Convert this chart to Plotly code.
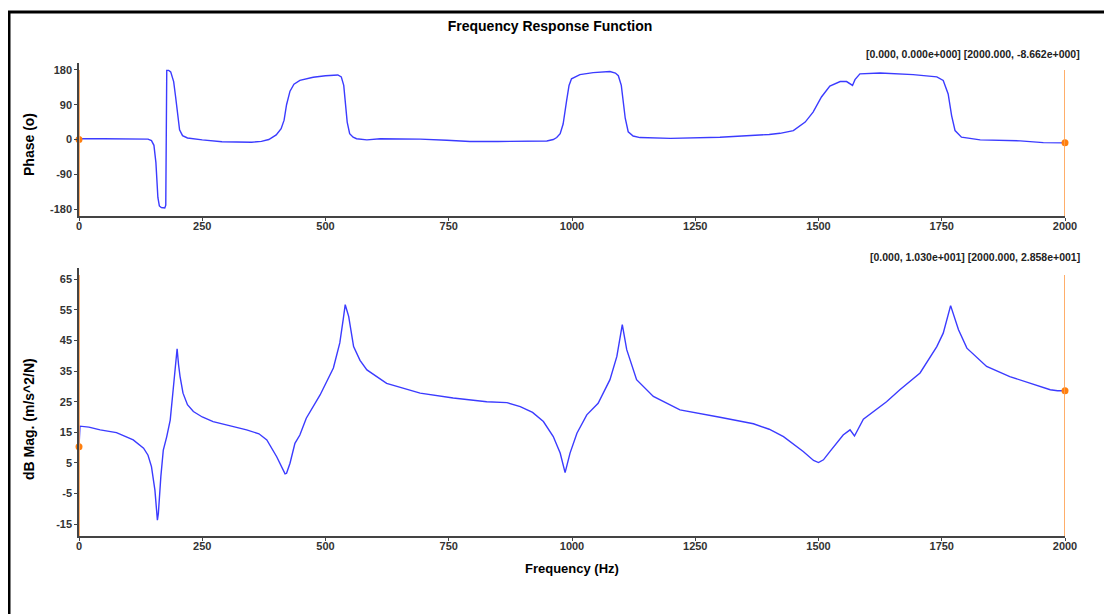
import plotly.graph_objects as go

# ---------------- data ----------------
phase_freq = [0, 5, 50, 100, 140, 147, 152, 156, 160, 163, 167, 174, 176, 178, 182, 186, 189, 192, 196,
              200, 204, 210, 220, 250, 290, 350, 370, 385, 400, 410, 416, 421, 428, 436, 448, 475, 500,
              525, 532, 537, 540, 544, 549, 556, 563, 584, 611, 692, 746, 793, 850, 901, 949, 962, 969,
              976, 982, 989, 994, 999, 1016, 1043, 1077, 1088, 1094, 1100, 1104, 1108, 1114, 1124, 1138,
              1200, 1300, 1350, 1400, 1422, 1449, 1473, 1489, 1506, 1523, 1544, 1557, 1569, 1574, 1584,
              1625, 1692, 1740, 1753, 1763, 1770, 1777, 1790, 1807, 1828, 1909, 1956, 2000]
phase_deg = [0, 2, 2, 2, 1, -3, -15, -60, -150, -172, -176, -177, -170, 179, 179, 175, 165, 150, 110,
             60, 25, 10, 4, -1, -6, -7, -5, 0, 12, 28, 50, 90, 125, 143, 153, 161, 165,
             167, 162, 140, 100, 45, 15, 6, 2, -1, 2, 1, -2, -5, -5, -4, -4, 0, 5,
             15, 40, 100, 140, 157, 168, 173, 176, 172, 165, 140, 100, 55, 20, 9, 5,
             3, 6, 9, 13, 16, 23, 45, 71, 110, 138, 150, 150, 140, 155, 170,
             172, 168, 162, 153, 118, 62, 23, 6, 2, -1, -3.5, -8, -8.662]

mag_freq = [0, 2, 20, 43, 76, 110, 131, 140, 147, 154, 159, 161, 166, 171, 178, 185, 191, 196, 199,
            202, 205, 211, 220, 232, 250, 272, 313, 340, 365, 381, 401, 412, 418, 421, 428, 438, 448,
            461, 489, 516, 529, 536, 540, 547, 557, 570, 584, 624, 692, 759, 827, 868, 895, 920, 942,
            962, 976, 986, 996, 1010, 1030, 1053, 1077, 1091, 1102, 1111, 1131, 1165, 1219, 1300,
            1368, 1400, 1429, 1469, 1490, 1500, 1510, 1523, 1550, 1564, 1573, 1591, 1638, 1665, 1706,
            1740, 1753, 1768, 1784, 1801, 1841, 1888, 1936, 1970, 1985, 2000]
mag_db = [10.3, 17, 16.7, 15.8, 14.9, 12.5, 9.8, 7.5, 3.8, -3.9, -13.7, -11.5, 0.5, 9.2, 13.6, 19, 28.9, 37, 42.3,
          37, 33.2, 27.8, 24, 21.8, 20, 18.5, 16.9, 15.8, 14.5, 12.5, 7, 3.5, 1.4, 1.6, 4.9, 11.4, 14.1,
          19.6, 27.2, 36, 44.2, 52, 56.7, 52.9, 43, 38.5, 35.4, 31, 27.8, 26.2, 25, 24.7, 23.4, 21.5, 18.5,
          13.6, 8.2, 1.8, 8.2, 14.7, 20.7, 24.5, 32.2, 39.8, 50.2, 42, 32.2, 26.7, 22.3, 19.9,
          17.8, 16, 13.6, 8.7, 5.8, 5.1, 6, 8.7, 14.1, 15.8, 13.8, 19.3, 25, 28.9, 34.4,
          43, 47.4, 56.4, 48.5, 42.5, 36.5, 33.2, 30.8, 28.9, 28.6, 28.58]

cursor_freq = [0.0, 2000.0]
cursor_phase = [0.0, -8.662]
cursor_mag = [10.30, 28.58]

x_ticks = [0, 250, 500, 750, 1000, 1250, 1500, 1750, 2000]
phase_ticks = [-180, -90, 0, 90, 180]
mag_ticks = [-15, -5, 5, 15, 25, 35, 45, 55, 65]

title_text = "Frequency Response Function"
phase_title = "Phase (o)"
mag_title = "dB Mag. (m/s^2/N)"
x_title = "Frequency (Hz)"

# ---------------- layout helpers ----------------
# the page body adds an 8px margin; the figure is sized so that it fills the window exactly
OFF = 8
FW, FH = 1112 - OFF, 614 - OFF
ML, MR = 79 - OFF, 1112 - 1065
PW = FW - ML - MR


def px(xs):
    """screen x (px) -> paper x"""
    return (xs - OFF - ML) / PW


def py(ys):
    """screen y (px) -> paper y"""
    return 1 - (ys - OFF) / FH


FONT = "Liberation Sans, Arial, sans-serif"
LINE = "#3b3bff"
ORANGE_LINE = "rgba(255,160,80,0.85)"
ORANGE_MARK = "#ff7f0e"


def fmt_e(v):
    s = f"{v:.3e}"
    mant, ex = s.split("e")
    return f"{mant}e{ex[0]}{int(ex[1:]):03d}"


def cursor_label(fs, vs):
    return " ".join(f"[{f:.3f}, {fmt_e(v)}]" for f, v in zip(fs, vs))


fig = go.Figure()
fig.add_trace(go.Scatter(x=phase_freq, y=phase_deg, mode="lines",
                         line=dict(color=LINE, width=1.4), xaxis="x", yaxis="y", showlegend=False))
fig.add_trace(go.Scatter(x=mag_freq, y=mag_db, mode="lines",
                         line=dict(color=LINE, width=1.4), xaxis="x2", yaxis="y2", showlegend=False))

# cursor lines
for xc in cursor_freq:
    fig.add_shape(type="line", xref="x", yref="y domain", x0=xc, x1=xc, y0=0, y1=0.954,
                  line=dict(color=ORANGE_LINE, width=2))
    fig.add_shape(type="line", xref="x2", yref="y2 domain", x0=xc, x1=xc, y0=0, y1=0.974,
                  line=dict(color=ORANGE_LINE, width=2))

fig.add_trace(go.Scatter(x=cursor_freq, y=cursor_phase, mode="markers", cliponaxis=False,
                         marker=dict(color=ORANGE_MARK, size=7), xaxis="x", yaxis="y", showlegend=False))
fig.add_trace(go.Scatter(x=cursor_freq, y=cursor_mag, mode="markers", cliponaxis=False,
                         marker=dict(color=ORANGE_MARK, size=7), xaxis="x2", yaxis="y2", showlegend=False))

axis_common = dict(showgrid=False, zeroline=False, showline=True, linecolor="#444444", linewidth=1.5,
                   ticks="outside", ticklen=3, tickwidth=1, tickcolor="#444444",
                   tickfont=dict(family=FONT, size=11, color="#333333"))
x_extra = dict(ticklabelstandoff=-4)

fig.update_layout(
    width=FW, height=FH, autosize=False,
    margin=dict(l=ML, r=MR, t=0, b=0),
    paper_bgcolor="white", plot_bgcolor="white",
    font=dict(family=FONT),
    title=dict(text=f"<b>{title_text}</b>", x=(550 - OFF) / FW, y=py(26), xanchor="center", yanchor="middle",
               font=dict(family=FONT, size=14, color="black")),
    xaxis=dict(domain=[0, 1], range=[0, 2000], tickvals=x_ticks, ticktext=[f"<b>{t}</b>" for t in x_ticks],
               anchor="y", **axis_common, **x_extra),
    yaxis=dict(domain=[py(216), py(63)], range=[-198, 198], tickvals=phase_ticks,
               ticktext=[f"<b>{t}</b>" for t in phase_ticks], anchor="x", **axis_common),
    xaxis2=dict(domain=[0, 1], range=[0, 2000], tickvals=x_ticks, ticktext=[f"<b>{t}</b>" for t in x_ticks],
                anchor="y2", **axis_common, **x_extra),
    yaxis2=dict(domain=[py(536), py(268)], range=[-18.9, 68.7], tickvals=mag_ticks,
                ticktext=[f"<b>{t}</b>" for t in mag_ticks], anchor="x2", **axis_common),
)

ann_font = dict(family=FONT, size=10.5, color="#222222")
fig.add_annotation(text=f"<b>{cursor_label(cursor_freq, cursor_phase)}</b>", xref="paper", yref="paper",
                   x=px(1082), y=py(54), xanchor="right", yanchor="middle", showarrow=False, font=ann_font)
fig.add_annotation(text=f"<b>{cursor_label(cursor_freq, cursor_mag)}</b>", xref="paper", yref="paper",
                   x=px(1082), y=py(257), xanchor="right", yanchor="middle", showarrow=False, font=ann_font)

ttl_font = dict(family=FONT, size=14, color="black")
fig.add_annotation(text=f"<b>{phase_title}</b>", xref="paper", yref="paper", x=px(29), y=py(145),
                   xanchor="center", yanchor="middle", textangle=-90, showarrow=False, font=ttl_font)
fig.add_annotation(text=f"<b>{mag_title}</b>", xref="paper", yref="paper", x=px(29), y=py(419),
                   xanchor="center", yanchor="middle", textangle=-90, showarrow=False, font=ttl_font)
fig.add_annotation(text=f"<b>{x_title}</b>", xref="paper", yref="paper", x=px(572), y=py(568),
                   xanchor="center", yanchor="middle", showarrow=False,
                   font=dict(family=FONT, size=13, color="black"))

# outer frame (extends beyond right and bottom edges)
fig.add_shape(type="rect", xref="paper", yref="paper",
              x0=px(9), x1=1.2, y0=-0.2, y1=py(12),
              line=dict(color="black", width=3), layer="above")

fig.write_html("out.html")
